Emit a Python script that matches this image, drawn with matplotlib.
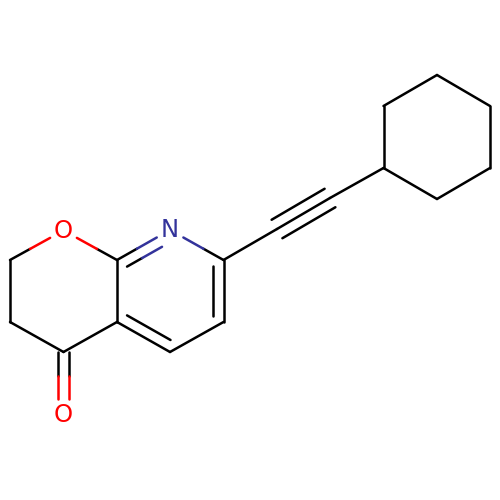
import matplotlib
matplotlib.use("Agg")
import matplotlib.pyplot as plt
import numpy as np

atom_ids = ["C2","C3","C4","C4a","C5","C6","C7","N8","C8a","O1","O4",
            "Ca","Cb","H1","H2","H3","H4","H5","H6"]
atom_x = [10,10,63.5,117,170,223.5,223.5,170,117,63.5,63.5,
          277,330,383.5,383.5,437,490,490,437]
atom_y = [260,322,352,322,352,322,260,230,260,230.5,415,
          229,198,168,106,75,106,168,199]
labels = {"O1":("O","red"),"O4":("O","red"),"N8":("N","navy_n")}

single_bonds = [("C2","C3"),("C3","C4"),("C4","C4a"),("C4a","C8a"),("C5","C6"),
                ("C2","O1"),("C8a","O1"),("C7","N8"),("C7","Ca"),("Cb","H1"),
                ("H1","H2"),("H2","H3"),("H3","H4"),("H4","H5"),("H5","H6"),("H6","H1")]
ring_double_bonds = [("C4a","C5","C7"),("C6","C7","C8a"),("C8a","N8","C5")]
carbonyl = ("C4","O4")
triple = ("Ca","Cb")

BLACK = "black"
COL = {"O1":"#FF0000","O4":"#FF0000","N8":"#33339B"}
pos = {k:np.array([x,y],float) for k,x,y in zip(atom_ids,atom_x,atom_y)}
LW = 1.8

fig = plt.figure(figsize=(5,5),dpi=100,facecolor="white")
ax = fig.add_axes([0,0,1,1])
ax.set_xlim(0,500); ax.set_ylim(500,0); ax.axis("off")

def seg(p,q,c):
    ax.plot([p[0],q[0]],[p[1],q[1]],color=c,lw=LW,solid_capstyle="round",solid_joinstyle="round")

def bond(a,b,off=np.zeros(2),t0=0.0,t1=1.0):
    """Draw a→b, two-coloured and trimmed at a labelled atom."""
    p,q = pos[a],pos[b]
    if a in COL: p,q,a,b,t0,t1 = q,p,b,a,1-t1,1-t0
    d = q-p
    if b in COL:
        end = min(t1,0.75)
        mid = 0.375
        seg(p+d*t0+off,p+d*mid+off,BLACK)
        seg(p+d*mid+off,p+d*end+off,COL[b])
    else:
        seg(p+d*t0+off,p+d*t1+off,BLACK)

def normal(a,b):
    d = pos[b]-pos[a]
    return np.array([-d[1],d[0]])/np.hypot(*d)

for a,b in single_bonds:
    bond(a,b)

for a,b,toward in ring_double_bonds:
    bond(a,b)
    n = normal(a,b)
    if np.dot(n,pos[toward]-pos[a])<0: n=-n
    bond(a,b,off=n*10.7,t0=0.09,t1=0.91)

n = normal(*carbonyl)
bond(*carbonyl,off=n*5.7)
bond(*carbonyl,off=-n*5.7)

n = normal(*triple)
bond(*triple)
bond(*triple,off=n*10.7)
bond(*triple,off=-n*10.7)

for k,(txt,_) in labels.items():
    ax.text(pos[k][0],pos[k][1],txt,color=COL[k],fontsize=17.5,ha="center",va="center",
            family="DejaVu Sans")

fig.savefig("out.png",dpi=100,facecolor="white")
